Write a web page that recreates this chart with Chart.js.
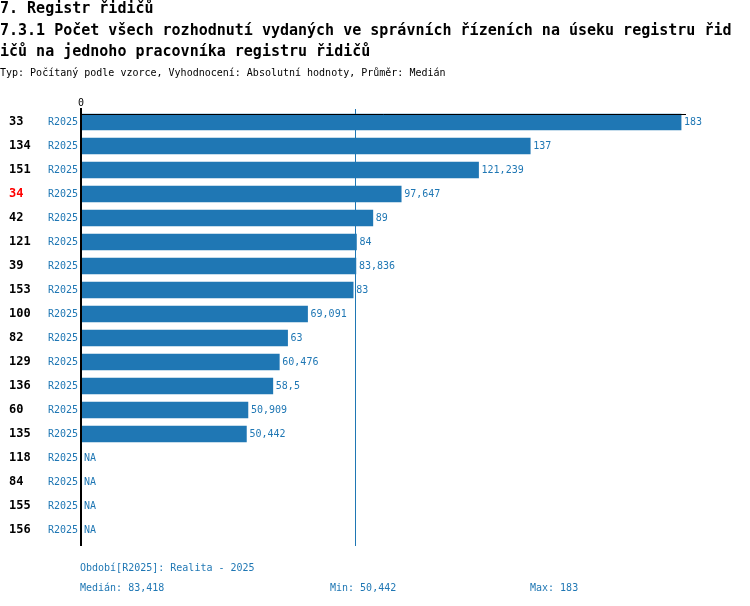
<!DOCTYPE html>
<html>
<head>
<meta charset="utf-8">
<script src="https://cdn.jsdelivr.net/npm/chart.js@4"></script>
<style>
    html, body { margin: 0; padding: 0; background: #ffffff; }
    #wrap { width: 750px; height: 606px; }
</style>
</head>
<body>
<div id="wrap"><canvas id="chart" width="750" height="606"></canvas></div>
<script>
// data
const titleLines = [
    '7. Registr řidičů',
    '7.3.1 Počet všech rozhodnutí vydaných ve správních řízeních na úseku registru řid',
    'ičů na jednoho pracovníka registru řidičů'
];
const subtitle = 'Typ: Počítaný podle vzorce, Vyhodnocení: Absolutní hodnoty, Průměr: Medián';
const codes = ['33', '134', '151', '34', '42', '121', '39', '153', '100', '82', '129', '136', '60', '135', '118', '84', '155', '156'];
const values = [183, 137, 121.239, 97.647, 89, 84, 83.836, 83, 69.091, 63, 60.476, 58.5, 50.909, 50.442, null, null, null, null];
const period = 'R2025';
const periodNote = 'Období[R2025]: Realita - 2025';
const highlightCode = '34';
const xTicks = [0];

const colors = {
    bar: '#1f77b4',
    text: '#000000',
    highlight: '#ff0000'
};
const mono = '"DejaVu Sans Mono", "Liberation Mono", monospace';

function fmt(v) {
    return String(v).replace('.', ',');
}

// median / min / max of the known values
const known = values.filter(v => v !== null).sort((a, b) => a - b);
const mid = Math.floor(known.length / 2);
const median = known.length % 2 ? known[mid] : Math.round((known[mid - 1] + known[mid]) / 2 * 1000) / 1000;
const minVal = known[0];
const maxVal = known[known.length - 1];

const overlay = {
    id: 'overlay',
    beforeDatasetsDraw(chart) {
        // median line sits behind the bars
        const { ctx, chartArea, scales } = chart;
        const xm = Math.round(scales.x.getPixelForValue(median)) + 0.5;
        ctx.save();
        ctx.strokeStyle = colors.bar;
        ctx.lineWidth = 1;
        ctx.beginPath();
        ctx.moveTo(xm, chartArea.top - 1);
        ctx.lineTo(xm, chartArea.bottom + 4);
        ctx.stroke();
        ctx.restore();
    },
    afterDatasetsDraw(chart) {
        const { ctx, chartArea, scales } = chart;
        const x = scales.x, y = scales.y;
        const x0 = x.getPixelForValue(0);
        ctx.save();

        // header
        ctx.fillStyle = colors.text;
        ctx.textAlign = 'left';
        ctx.textBaseline = 'middle';
        ctx.font = 'bold 15px ' + mono;
        ctx.fillText(titleLines[0], 0, 9);
        ctx.fillText(titleLines[1], 0, 31);
        ctx.fillText(titleLines[2], 0, 52);
        ctx.font = '10px ' + mono;
        ctx.fillText(subtitle, 0, 73);

        // top line and axis
        ctx.strokeStyle = colors.text;
        ctx.lineWidth = 1;
        ctx.beginPath();
        ctx.moveTo(x0, chartArea.top + 4.5);
        ctx.lineTo(chartArea.right, chartArea.top + 4.5);
        ctx.stroke();
        ctx.lineWidth = 2;
        ctx.beginPath();
        ctx.moveTo(x0, chartArea.top - 2);
        ctx.lineTo(x0, chartArea.bottom + 4);
        ctx.stroke();

        // x tick labels
        ctx.font = '10px ' + mono;
        ctx.textAlign = 'center';
        ctx.textBaseline = 'middle';
        xTicks.forEach(t => ctx.fillText(String(t), x.getPixelForValue(t), chartArea.top - 7));

        // row labels and values
        codes.forEach((code, i) => {
            const yc = y.getPixelForValue(i);
            ctx.textAlign = 'left';
            ctx.font = 'bold 12px ' + mono;
            ctx.fillStyle = code === highlightCode ? colors.highlight : colors.text;
            ctx.fillText(code, 9, yc);

            ctx.font = '10px ' + mono;
            ctx.fillStyle = colors.bar;
            ctx.textAlign = 'right';
            ctx.fillText(period, x0 - 3, yc);

            ctx.textAlign = 'left';
            const v = values[i];
            if (v === null) {
                ctx.fillText('NA', x0 + 3, yc);
            } else {
                ctx.fillText(fmt(v), x.getPixelForValue(v) + 3, yc);
            }
        });

        // footer
        ctx.font = '10px ' + mono;
        ctx.fillStyle = colors.bar;
        ctx.textAlign = 'left';
        ctx.fillText(periodNote, 80, chartArea.bottom + 26);
        ctx.fillText('Medián: ' + fmt(median), 80, chartArea.bottom + 46);
        ctx.fillText('Min: ' + fmt(minVal), 330, chartArea.bottom + 46);
        ctx.fillText('Max: ' + fmt(maxVal), 530, chartArea.bottom + 46);

        ctx.restore();
    }
};

const ctx = document.getElementById('chart').getContext('2d');
new Chart(ctx, {
    type: 'bar',
    data: {
        labels: codes,
        datasets: [{
            data: values,
            backgroundColor: colors.bar,
            borderWidth: 0,
            barThickness: 16
        }]
    },
    options: {
        indexAxis: 'y',
        responsive: false,
        animation: false,
        layout: {
            padding: { left: 81, right: 64, top: 110, bottom: 64 }
        },
        plugins: {
            legend: { display: false },
            tooltip: { enabled: false }
        },
        scales: {
            x: { display: false, min: 0, max: 184.5 },
            y: { display: false }
        }
    },
    plugins: [overlay]
});
</script>
</body>
</html>
